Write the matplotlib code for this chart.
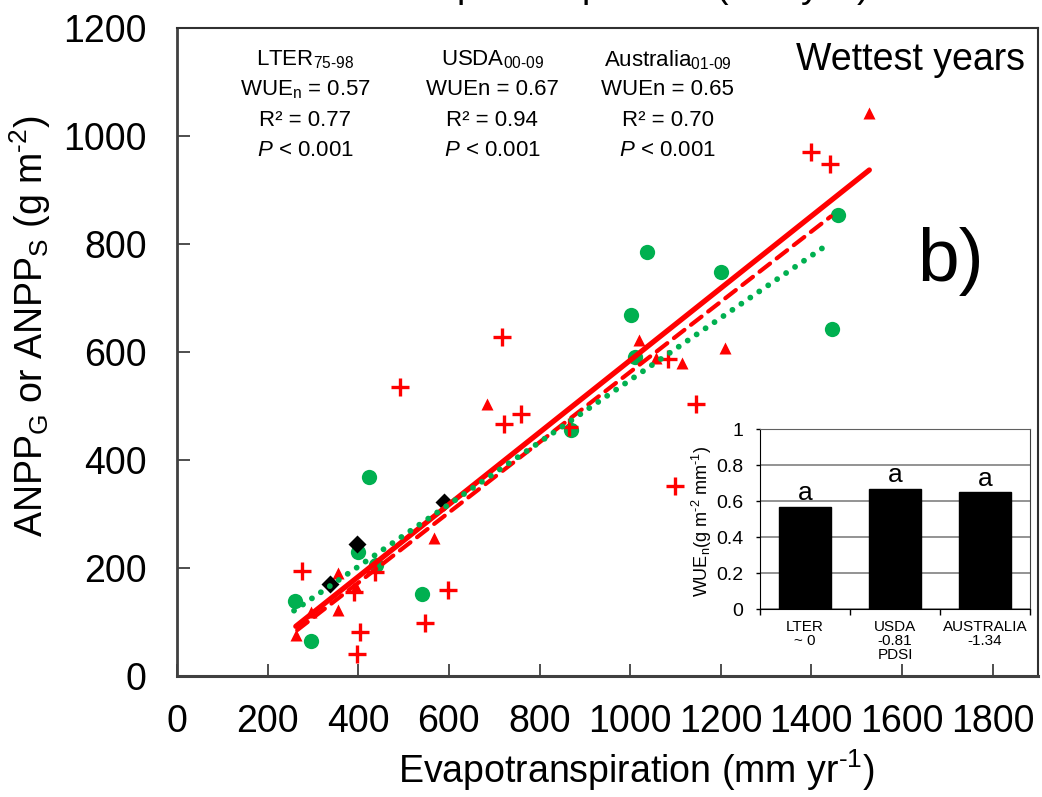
import matplotlib
matplotlib.use("Agg")
import matplotlib.pyplot as plt
from matplotlib.ticker import FixedLocator

plt.rcParams['font.family'] = ['Liberation Sans', 'DejaVu Sans']
plt.rcParams['mathtext.fontset'] = 'custom'
plt.rcParams['mathtext.rm'] = 'Liberation Sans'
plt.rcParams['mathtext.it'] = 'Liberation Sans:italic'
plt.rcParams['mathtext.default'] = 'regular'

# red crosses
plus_et = [275, 403, 398, 548, 598, 391, 437, 492, 717, 759, 721, 865, 1084, 1146, 1099, 1400, 1441]
plus_anpp = [194, 82, 41, 99, 159, 156, 193, 535, 627, 486, 466, 462, 587, 503, 352, 970, 948]
# red triangles
tri_et = [262, 295, 354, 354, 395, 567, 684, 1019, 1056, 1114, 1210, 1528]
tri_anpp = [76, 119, 190, 122, 165, 255, 503, 622, 589, 580, 608, 1043]
# green circles
circ_et = [260, 295, 400, 423, 440, 541, 870, 1002, 1011, 1038, 1200, 1445, 1459]
circ_anpp = [139, 65, 230, 368, 206, 151, 455, 669, 590, 785, 748, 642, 854]
# black diamonds
dia_et = [337, 398, 590]
dia_anpp = [170, 245, 322]

# fitted lines (end points)
solid_et = [262, 1528]
solid_anpp = [92, 937]
dash_et = [265, 1443]
dash_anpp = [85, 851]
dot_et = [258, 1436]
dot_anpp = [121, 799]

x_ticks = [0, 200, 400, 600, 800, 1000, 1200, 1400, 1600, 1800]
y_ticks = [0, 200, 400, 600, 800, 1000, 1200]

HY = "\u2010"  # plain hyphen inside mathtext
site_labels = [r"LTER$_{75" + HY + "98}$", r"USDA$_{00" + HY + "09}$", r"Australia$_{01" + HY + "09}$"]
wue_labels = [r"WUE$_{n}$ = 0.57", "WUEn = 0.67", "WUEn = 0.65"]
r2_labels = ["R² = 0.77", "R² = 0.94", "R² = 0.70"]
p_labels = [r"$\mathit{P}$ < 0.001"] * 3

# inset bar chart
bar_sites = ["LTER\n~ 0", "USDA\n-0.81\nPDSI", "AUSTRALIA\n-1.34"]
bar_wue = [0.57, 0.67, 0.65]
bar_letters = ["a", "a", "a"]

red = "#ff0000"
green = "#00b050"

fig = plt.figure(figsize=(10.42, 7.97), dpi=100)
ax = fig.add_axes([0.170, 0.1518, 0.826, 0.8131])

ax.plot(solid_et, solid_anpp, color=red, lw=3.8, solid_capstyle='round', zorder=3)
ax.plot(dash_et, dash_anpp, color=red, lw=3.0, linestyle=(0, (3.2, 2.0)), dash_capstyle='round', zorder=3)
ax.plot(dot_et, dot_anpp, color=green, lw=4.2, linestyle=(0, (0.01, 1.85)), dash_capstyle='round', zorder=3)

ax.plot(circ_et, circ_anpp, 'o', color=green, ms=11, mec='none', zorder=2)
ax.plot(plus_et, plus_anpp, '+', color=red, ms=13, mew=2.4, zorder=2)
ax.plot(tri_et, tri_anpp, '^', color=red, ms=9, mec='none', zorder=2)
ax.plot(dia_et, dia_anpp, 'D', color='black', ms=9, mec='none', zorder=2)

ax.set_xlim(0, 1900)
ax.set_ylim(0, 1200)
ax.xaxis.set_major_locator(FixedLocator(x_ticks))
ax.yaxis.set_major_locator(FixedLocator(y_ticks))
ax.tick_params(axis='both', direction='in', length=9, width=1.3, labelsize=27, color='#404040')
ax.tick_params(axis='x', pad=20)
ax.tick_params(axis='y', pad=22)
for side in ['top', 'right']:
    ax.spines[side].set_linewidth(1.5)
    ax.spines[side].set_color('#303030')
ax.spines['left'].set_linewidth(2)
ax.spines['left'].set_color('#404040')
ax.spines['bottom'].set_linewidth(2.2)
ax.spines['bottom'].set_color('#404040')

ax.set_xlabel("Evapotranspiration (mm yr$^{" + HY + "1}$)", fontsize=27, va='center')
ax.xaxis.set_label_coords(0.533, -0.145)
ax.set_ylabel("ANPP$_{G}$ or ANPP$_{S}$ (g m$^{" + HY + "2}$)", fontsize=27, va='center')
ax.yaxis.set_label_coords(-0.171, 0.54)

# title cut off by the top edge of the picture
fig.text(0.6046, 1.002, "Evapotranspiration (mm yr$^{" + HY + "1}$)", fontsize=27, ha='center', va='baseline')

col_x = [0.1487, 0.366, 0.570]
row_y = [0.9506, 0.9043, 0.8565, 0.8117]
for i in range(3):
    for j, lab in enumerate([site_labels[i], wue_labels[i], r2_labels[i], p_labels[i]]):
        ax.text(col_x[i], row_y[j], lab, transform=ax.transAxes, fontsize=16, ha='center', va='center')

ax.text(0.985, 0.9506, "Wettest years", transform=ax.transAxes, fontsize=27, ha='right', va='center')
ax.text(0.898, 0.639, "b)", transform=ax.transAxes, fontsize=54, ha='center', va='center')

# inset
ins = fig.add_axes([0.7294, 0.2355, 0.2591, 0.2262])
pos = list(range(len(bar_wue)))
ins.bar(pos, bar_wue, width=0.57, color='black', edgecolor='black', zorder=3)
for p, v, t in zip(pos, bar_wue, bar_letters):
    ins.text(p, v + 0.008, t, ha='center', va='bottom', fontsize=19)
ins.set_xlim(-0.5, 2.5)
ins.set_ylim(0, 1)
ins.set_yticks([0, 0.2, 0.4, 0.6, 0.8, 1])
ins.set_yticklabels(["0", "0.2", "0.4", "0.6", "0.8", "1"])
ins.yaxis.grid(True, color='#808080', lw=1.2, zorder=0)
ins.set_xticks(pos)
ins.set_xticklabels(bar_sites, fontsize=11, linespacing=1.0)
ins.xaxis.set_minor_locator(FixedLocator([-0.5, 0.5, 1.5, 2.5]))
ins.tick_params(axis='x', which='major', length=0, pad=8)
ins.tick_params(axis='x', which='minor', length=4, width=1, direction='out')
ins.tick_params(axis='y', length=3, width=1, labelsize=14, pad=9)
ins.spines['left'].set_color('black')
ins.spines['bottom'].set_color('black')
ins.spines['top'].set_color('#606060')
ins.spines['right'].set_color('#404040')
ins.set_ylabel("WUE$_{n}$(g m$^{" + HY + "2}$ mm$^{" + HY + "1}$)", fontsize=13, va='center')
ins.yaxis.set_label_coords(-0.215, 0.49)

fig.savefig("out.png", dpi=100)
